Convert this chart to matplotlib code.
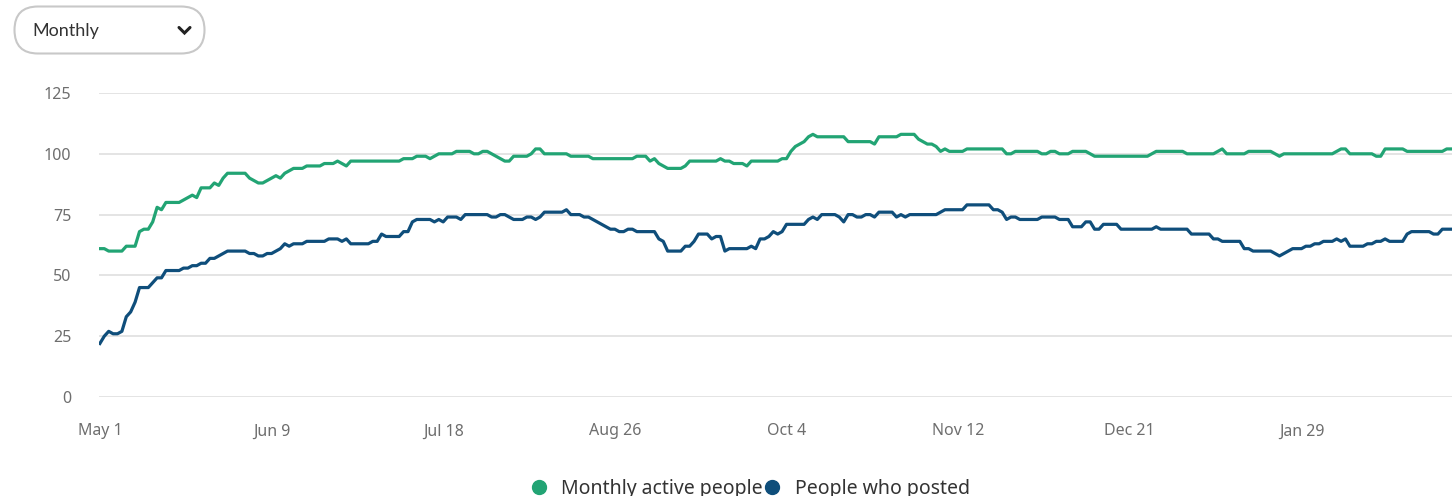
import numpy as np
import matplotlib
matplotlib.use("Agg")
import matplotlib.pyplot as plt
from matplotlib.patches import FancyBboxPatch
from matplotlib.lines import Line2D

# daily counts, starting May 1
monthly_active = [
    61, 61, 60, 60, 60, 60, 62, 62, 62, 68,
    69, 69, 72, 78, 77, 80, 80, 80, 80, 81,
    82, 83, 82, 86, 86, 86, 88, 87, 90, 92,
    92, 92, 92, 92, 90, 89, 88, 88, 89, 90,
    91, 90, 92, 93, 94, 94, 94, 95, 95, 95,
    95, 96, 96, 96, 97, 96, 95, 97, 97, 97,
    97, 97, 97, 97, 97, 97, 97, 97, 97, 98,
    98, 98, 99, 99, 99, 98, 99, 100, 100, 100,
    100, 101, 101, 101, 101, 100, 100, 101, 101, 100,
    99, 98, 97, 97, 99, 99, 99, 99, 100, 102,
    102, 100, 100, 100, 100, 100, 100, 99, 99, 99,
    99, 99, 98, 98, 98, 98, 98, 98, 98, 98,
    98, 98, 99, 99, 99, 97, 98, 96, 95, 94,
    94, 94, 94, 95, 97, 97, 97, 97, 97, 97,
    97, 98, 97, 97, 96, 96, 96, 95, 97, 97,
    97, 97, 97, 97, 97, 98, 98, 101, 103, 104,
    105, 107, 108, 107, 107, 107, 107, 107, 107, 107,
    105, 105, 105, 105, 105, 105, 104, 107, 107, 107,
    107, 107, 108, 108, 108, 108, 106, 105, 104, 104,
    103, 101, 102, 101, 101, 101, 101, 102, 102, 102,
    102, 102, 102, 102, 102, 102, 100, 100, 101, 101,
    101, 101, 101, 101, 100, 100, 101, 101, 100, 100,
    100, 101, 101, 101, 101, 100, 99, 99, 99, 99,
    99, 99, 99, 99, 99, 99, 99, 99, 99, 100,
    101, 101, 101, 101, 101, 101, 101, 100, 100, 100,
    100, 100, 100, 100, 101, 102, 100, 100, 100, 100,
    100, 101, 101, 101, 101, 101, 101, 100, 99, 100,
    100, 100, 100, 100, 100, 100, 100, 100, 100, 100,
    100, 101, 102, 102, 100, 100, 100, 100, 100, 100,
    99, 99, 102, 102, 102, 102, 102, 101, 101, 101,
    101, 101, 101, 101, 101, 101, 102, 102,
]

people_posted = [
    22, 25, 27, 26, 26, 27, 33, 35, 39, 45,
    45, 45, 47, 49, 49, 52, 52, 52, 52, 53,
    53, 54, 54, 55, 55, 57, 57, 58, 59, 60,
    60, 60, 60, 60, 59, 59, 58, 58, 59, 59,
    60, 61, 63, 62, 63, 63, 63, 64, 64, 64,
    64, 64, 65, 65, 65, 64, 65, 63, 63, 63,
    63, 63, 64, 64, 67, 66, 66, 66, 66, 68,
    68, 72, 73, 73, 73, 73, 72, 73, 72, 74,
    74, 74, 73, 75, 75, 75, 75, 75, 75, 74,
    74, 75, 75, 74, 73, 73, 73, 74, 74, 73,
    74, 76, 76, 76, 76, 76, 77, 75, 75, 75,
    74, 74, 73, 72, 71, 70, 69, 69, 68, 68,
    69, 69, 68, 68, 68, 68, 68, 65, 64, 60,
    60, 60, 60, 62, 62, 64, 67, 67, 67, 65,
    66, 66, 60, 61, 61, 61, 61, 61, 62, 61,
    65, 65, 66, 68, 67, 68, 71, 71, 71, 71,
    71, 73, 74, 73, 75, 75, 75, 75, 74, 72,
    75, 75, 74, 74, 75, 75, 74, 76, 76, 76,
    76, 74, 75, 74, 75, 75, 75, 75, 75, 75,
    75, 76, 77, 77, 77, 77, 77, 79, 79, 79,
    79, 79, 79, 77, 77, 76, 73, 74, 74, 73,
    73, 73, 73, 73, 74, 74, 74, 74, 73, 73,
    73, 70, 70, 70, 72, 72, 69, 69, 71, 71,
    71, 71, 69, 69, 69, 69, 69, 69, 69, 69,
    70, 69, 69, 69, 69, 69, 69, 69, 67, 67,
    67, 67, 67, 65, 65, 64, 64, 64, 64, 64,
    61, 61, 60, 60, 60, 60, 60, 59, 58, 59,
    60, 61, 61, 61, 62, 62, 63, 63, 64, 64,
    64, 65, 64, 65, 62, 62, 62, 62, 63, 63,
    64, 64, 65, 64, 64, 64, 64, 67, 68, 68,
    68, 68, 68, 67, 67, 69, 69, 69,
]

tick_days = [0, 39, 78, 117, 156, 195, 234, 273]
tick_labels = ["May 1", "Jun 9", "Jul 18", "Aug 26", "Oct 4", "Nov 12", "Dec 21", "Jan 29"]
y_ticks = [0, 25, 50, 75, 100, 125]
series_names = ["Monthly active people", "People who posted"]

GREEN = "#22a474"
BLUE = "#0f4e7b"

plt.rcParams["font.family"] = ["Noto Sans", "DejaVu Sans"]

W, H = 1452, 496
fig = plt.figure(figsize=(W / 100, H / 100), dpi=100)

# pixel-space overlay for the period selector
ui = fig.add_axes([0, 0, 1, 1])
ui.set_xlim(0, W)
ui.set_ylim(H, 0)
ui.axis("off")
box = FancyBboxPatch((14.5, 6.5), 190, 47, boxstyle="round,pad=0,rounding_size=23.5",
                     facecolor="white", edgecolor="#c8c8c8", linewidth=1.5)
ui.add_patch(box)
ui.text(32, 31, "Monthly", fontsize=13, color="#333333", va="center", ha="left",
        family=["Lato", "DejaVu Sans"])
ui.plot([179, 184.5, 190], [27.5, 33, 27.5], color="#222222", lw=2.2,
        solid_capstyle="round", solid_joinstyle="miter")

ax = fig.add_axes([99 / W, 1 - 397 / H, (W - 99) / W, 304 / H])
days_a = np.arange(len(monthly_active))
days_p = np.arange(len(people_posted))
ax.plot(days_a, monthly_active, color=GREEN, lw=2.3, solid_joinstyle="round")
ax.plot(days_p, people_posted, color=BLUE, lw=2.3, solid_joinstyle="round")

ax.set_xlim(-0.2, 307.2)
ax.set_ylim(0, 125)
ax.set_yticks(y_ticks)
ax.set_xticks(tick_days)
ax.set_xticklabels(tick_labels)
ax.grid(axis="y", color="#e2e2e2", lw=1.3)
ax.set_axisbelow(True)
for s in ax.spines.values():
    s.set_visible(False)
ax.tick_params(axis="y", length=0, pad=20, labelsize=11.5, labelcolor="#6e6e6e")
ax.tick_params(axis="x", length=0, pad=19, labelsize=11.5, labelcolor="#6e6e6e")
ax.set_facecolor("none")

handles = [Line2D([], [], marker="o", ls="none", markersize=10, color=c) for c in (GREEN, BLUE)]
fig.legend(handles, series_names, loc="center", ncol=2, bbox_to_anchor=(0.516, 0.014),
           frameon=False, fontsize=14, handletextpad=0.65, columnspacing=0.0,
           labelcolor="#333333", handlelength=1.0)

fig.savefig("out.png", dpi=100)
